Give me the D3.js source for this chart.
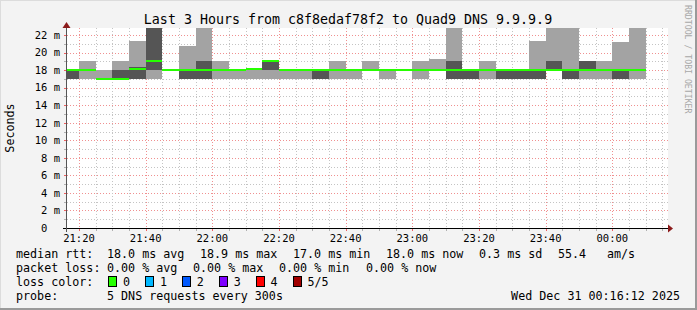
<!DOCTYPE html>
<html>
<head>
<meta charset="utf-8">
<script src="https://cdn.jsdelivr.net/npm/d3@7"></script>
<style>
  body { margin: 0; background: #f3f3f3; }
  svg { display: block; font-family: "DejaVu Sans Mono", monospace; }
  text { white-space: pre; }
</style>
</head>
<body>
<script>
let w = 697;
let h = 310;

// 5 minute steps, 5 DNS pings each (sorted: min, 2nd, median, 4th, max) in ms
const stepTimes = ["21:15", "21:20", "21:25", "21:30", "21:35", "21:40", "21:45", "21:50", "21:55",
  "22:00", "22:05", "22:10", "22:15", "22:20", "22:25", "22:30", "22:35", "22:40", "22:45", "22:50",
  "22:55", "23:00", "23:05", "23:10", "23:15", "23:20", "23:25", "23:30", "23:35", "23:40", "23:45",
  "23:50", "23:55", "00:00", "00:05"];
const pingMin = [17, 17, 17, 17, 17, 17, 18, 17, 17, 17, 17, 17, 17, 17, 17, 17, 17, 17, 18, 17,
  18, 17, 18, 17, 17, 17, 17, 17, 17, 18, 17, 17, 17, 17, 17];
const pingLow = [17, 18, 17, 17, 17, 18, 18, 17, 17, 18, 18, 18.15, 18, 18, 18, 17, 18, 18, 18, 18,
  18, 18, 18, 17, 17, 18, 17, 17, 17, 18, 17, 18, 18, 17, 18];
const medianRtt = [18, 18, 17, 17, 18.1, 19, 18, 18, 18, 18, 18, 18.15, 19, 18, 18, 18, 18, 18, 18, 18,
  18, 18, 18, 18, 18, 18, 18, 18, 18, 18, 18, 18, 18, 18, 18];
const pingHigh = [18, 18, 17, 18, 18.4, 24, 18, 18, 19, 18, 18, 18.15, 19, 18, 18, 18, 18, 18, 18, 18,
  18, 18, 18, 19, 18, 18, 18, 18, 18, 19, 18, 19, 18, 18, 18];
const pingMax = [18, 19, 18, 19, 21.3, 24, 18, 20.75, 24, 19, 18, 18.15, 19, 18, 18, 18, 19, 18, 19, 18,
  18, 19, 19.3, 24, 18, 19, 18, 18, 21.3, 24, 24, 19, 19, 21.2, 24];

const yTicks = [0, 2, 4, 6, 8, 10, 12, 14, 16, 18, 20, 22];
const xTickLabels = ["21:20", "21:40", "22:00", "22:20", "22:40", "23:00", "23:20", "23:40", "00:00"];

const lossLabels = ["0", "1", "2", "3", "4", "5/5"];
const lossColors = ["#26ff00", "#00b8ff", "#0059ff", "#7e00ff", "#ff0000", "#a10000"];

const rttLegend = ["median rtt:", "18.0 ms avg", "18.9 ms max", "17.0 ms min", "18.0 ms now", "0.3 ms sd", "55.4", "am/s"];
const lossLegend = ["packet loss:", "0.00 % avg", "0.00 % max", "0.00 % min", "0.00 % now"];

function toDate(s) {
  let p = s.split(":").map(Number);
  let day = p[0] < 12 ? 31 : 30;
  return new Date(2025, 11, day, p[0], p[1]);
}

let svg = d3.select("body").append("svg").attr("width", w).attr("height", h);

// background + 3d frame
svg.append("rect").attr("width", w).attr("height", h).attr("fill", "#f3f3f3");
svg.append("path").attr("d", "M0,0H697V1H1V310H0Z").attr("fill", "#dcdcdc");
svg.append("path").attr("d", "M695,0H697V310H0V308H695Z").attr("fill", "#9a9a9a");

let pLeft = 67, pRight = 667, pTop = 28, pBottom = 228;

let xScale = d3.scaleTime()
  .domain([new Date(2025, 11, 30, 21, 16, 24), new Date(2025, 11, 31, 0, 16, 24)])
  .range([pLeft, pRight]);
let yScale = d3.scaleLinear().domain([0, 22.8]).range([pBottom, pTop]);

svg.append("rect").attr("x", pLeft).attr("y", pTop).attr("width", 601).attr("height", pBottom - pTop).attr("fill", "#fff");

// grid
let minorY = d3.range(1, 23);
let minorX = d3.timeMinute.every(5).range(xScale.domain()[0], xScale.domain()[1]);
let majorX = xScale.ticks(d3.timeMinute.every(20));

let grid = svg.append("g").attr("shape-rendering", "crispEdges");
grid.selectAll(".gy").data(minorY).enter().append("line")
  .attr("x1", pLeft).attr("x2", 668)
  .attr("y1", (d) => Math.round(yScale(d)) + 0.5).attr("y2", (d) => Math.round(yScale(d)) + 0.5)
  .attr("stroke", (d) => d % 2 == 0 ? "#f09090" : "#c4c4c4")
  .attr("stroke-dasharray", "1,2");
grid.selectAll(".gx").data(minorX).enter().append("line")
  .attr("x1", (d) => Math.round(xScale(d)) + 0.5).attr("x2", (d) => Math.round(xScale(d)) + 0.5)
  .attr("y1", pTop).attr("y2", pBottom)
  .attr("stroke", (d) => d.getMinutes() % 20 == 0 ? "#f09090" : "#c4c4c4")
  .attr("stroke-dasharray", "1,2");

// smoke
svg.append("clipPath").attr("id", "clip").append("rect")
  .attr("x", pLeft).attr("y", pTop).attr("width", pRight - pLeft).attr("height", pBottom - pTop);
let plot = svg.append("g").attr("shape-rendering", "crispEdges").attr("clip-path", "url(#clip)");

let cols = stepTimes.map((t, i) => ({
  t0: toDate(t),
  t1: d3.timeMinute.offset(toDate(t), 5),
  min: pingMin[i], low: pingLow[i], med: medianRtt[i], high: pingHigh[i], max: pingMax[i],
}));

plot.selectAll(".outer").data(cols).enter().append("rect")
  .attr("x", (d) => xScale(d.t0)).attr("width", (d) => xScale(d.t1) - xScale(d.t0))
  .attr("y", (d) => yScale(d.max)).attr("height", (d) => yScale(d.min) - yScale(d.max))
  .attr("fill", "#a3a3a3");
plot.selectAll(".inner").data(cols).enter().append("rect")
  .attr("x", (d) => xScale(d.t0)).attr("width", (d) => xScale(d.t1) - xScale(d.t0))
  .attr("y", (d) => yScale(d.high)).attr("height", (d) => yScale(d.low) - yScale(d.high))
  .attr("fill", "#555555");
plot.selectAll(".med").data(cols).enter().append("rect")
  .attr("x", (d) => xScale(d.t0)).attr("width", (d) => xScale(d.t1) - xScale(d.t0))
  .attr("y", (d) => yScale(d.med) - 1).attr("height", 2)
  .attr("fill", lossColors[0]);

// axes
let ax = svg.append("g").attr("shape-rendering", "crispEdges");
ax.selectAll(".tx").data(minorX).enter().append("line")
  .attr("x1", (d) => Math.round(xScale(d)) + 0.5).attr("x2", (d) => Math.round(xScale(d)) + 0.5)
  .attr("y1", pBottom).attr("y2", pBottom + 3)
  .attr("stroke", (d) => d.getMinutes() % 20 == 0 ? "#f06060" : "#b0b0b0");
ax.selectAll(".ty").data(minorY).enter().append("line")
  .attr("x1", pLeft - 3).attr("x2", pLeft)
  .attr("y1", (d) => Math.round(yScale(d)) + 0.5).attr("y2", (d) => Math.round(yScale(d)) + 0.5)
  .attr("stroke", (d) => d % 2 == 0 ? "#f06060" : "#b0b0b0");
ax.append("line").attr("x1", 63).attr("x2", 670).attr("y1", pBottom + 0.5).attr("y2", pBottom + 0.5).attr("stroke", "#000");
ax.append("line").attr("x1", pLeft - 0.5).attr("x2", pLeft - 0.5).attr("y1", 232).attr("y2", 24).attr("stroke", "#555");
svg.append("path").attr("d", "M668,224.5L673,228.5L668,232.5Z").attr("fill", "#8b1a1a");
svg.append("path").attr("d", "M62.5,28L66.5,22L70.5,28Z").attr("fill", "#8b1a1a");

svg.selectAll(".xl").data(majorX).enter().append("text")
  .attr("x", (d) => xScale(d)).attr("y", 242)
  .attr("text-anchor", "middle").style("font-size", "10.5px").attr("fill", "#000")
  .text((d, i) => xTickLabels[i]);
svg.selectAll(".yl").data(yTicks).enter().append("text")
  .attr("x", 60).attr("y", (d) => yScale(d) + 3.8)
  .attr("text-anchor", "end").style("font-size", "10.5px").attr("fill", "#000")
  .text((d) => d == 0 ? "0  " : d + " m");

// titles
svg.append("text").attr("x", 348).attr("y", 24).attr("text-anchor", "middle")
  .style("font-size", "13.3px").text("Last 3 Hours from c8f8edaf78f2 to Quad9 DNS 9.9.9.9");
svg.append("text").attr("transform", "translate(14,128) rotate(-90)").attr("text-anchor", "middle")
  .style("font-size", "11.7px").text("Seconds");
svg.append("text").attr("transform", "translate(685,5) rotate(90)").attr("text-anchor", "start")
  .style("font-size", "8.2px").attr("fill", "#a8a8a8").text("RRDTOOL / TOBI OETIKER");

// legend
let fs = "11.7px";
let rttX = [16, 107, 200, 293, 386, 479, 558, 607];
svg.selectAll(".rtt").data(rttLegend).enter().append("text")
  .attr("x", (d, i) => rttX[i]).attr("y", 258).style("font-size", fs).text((d) => d);
let lossX = [16, 107, 193, 279, 366];
svg.selectAll(".loss").data(lossLegend).enter().append("text")
  .attr("x", (d, i) => lossX[i]).attr("y", 272).style("font-size", fs).text((d) => d);
svg.append("text").attr("x", 16).attr("y", 286).style("font-size", fs).text("loss color:");
let sw = svg.selectAll(".sw").data(lossLabels).enter().append("g")
  .attr("transform", (d, i) => "translate(" + (108.5 + i * 36.9) + ",276.5)");
sw.append("rect").attr("width", 8).attr("height", 10)
  .attr("fill", (d, i) => lossColors[i]).attr("stroke", "#000").attr("shape-rendering", "crispEdges");
sw.append("text").attr("x", 14.5).attr("y", 9.5).style("font-size", fs).text((d) => d);
svg.append("text").attr("x", 16).attr("y", 300).style("font-size", fs).text("probe:");
svg.append("text").attr("x", 107).attr("y", 300).style("font-size", fs).text("5 DNS requests every 300s");
svg.append("text").attr("x", 680).attr("y", 300).attr("text-anchor", "end").style("font-size", fs)
  .text("Wed Dec 31 00:16:12 2025");
</script>
</body>
</html>
